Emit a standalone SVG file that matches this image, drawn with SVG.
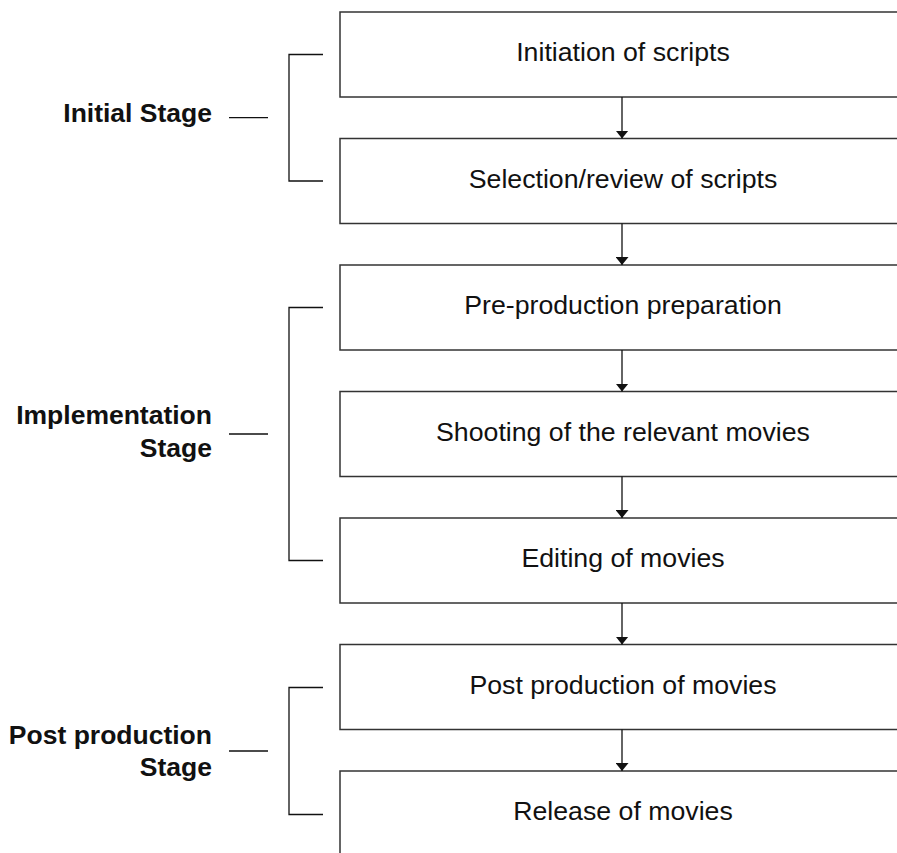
<svg xmlns="http://www.w3.org/2000/svg" width="897" height="853" viewBox="0 0 897 853">
<defs>
<style>
.box{fill:#fff;stroke:#333;stroke-width:1.5}
.bt{font-family:"Liberation Sans",Arial,sans-serif;font-size:26.7px;fill:#111;text-anchor:middle}
.lb{font-family:"Liberation Sans",Arial,sans-serif;font-size:26.5px;font-weight:bold;fill:#111;text-anchor:end}
.ln{fill:none;stroke:#111;stroke-width:1.3}
.ar{fill:none;stroke:#111;stroke-width:1.3;marker-end:url(#ah)}
</style>
<marker id="ah" viewBox="0 0 8 13" refX="8" refY="6.5" markerWidth="8" markerHeight="13" markerUnits="userSpaceOnUse" orient="auto">
<path d="M0,0 L8,6.5 L0,13 Z" fill="#111"/>
</marker>
</defs>
<rect width="897" height="853" fill="#fff"/>
<g id="n1"><rect class="box" x="340" y="12" width="570" height="85"/><text class="bt" x="623" y="61">Initiation of scripts</text></g>
<g id="n2"><rect class="box" x="340" y="138.5" width="570" height="85"/><text class="bt" x="623" y="187.5">Selection/review of scripts</text></g>
<g id="n3"><rect class="box" x="340" y="265" width="570" height="85"/><text class="bt" x="623" y="314">Pre-production preparation</text></g>
<g id="n4"><rect class="box" x="340" y="391.5" width="570" height="85"/><text class="bt" x="623" y="440.5">Shooting of the relevant movies</text></g>
<g id="n5"><rect class="box" x="340" y="518" width="570" height="85"/><text class="bt" x="623" y="567">Editing of movies</text></g>
<g id="n6"><rect class="box" x="340" y="644.5" width="570" height="85"/><text class="bt" x="623" y="693.5">Post production of movies</text></g>
<g id="n7"><rect class="box" x="340" y="771" width="570" height="85"/><text class="bt" x="623" y="820">Release of movies</text></g>
<g id="labels">
<text class="lb" x="212" y="122">Initial Stage</text>
<text class="lb" x="212" y="424">Implementation</text>
<text class="lb" x="212" y="457">Stage</text>
<text class="lb" x="212" y="744">Post production</text>
<text class="lb" x="212" y="776">Stage</text>
</g>
<g id="connectors">
<path class="ar" d="M622,97 V138.5"/>
<path class="ar" d="M622,223.5 V265"/>
<path class="ar" d="M622,350 V391.5"/>
<path class="ar" d="M622,476.5 V518"/>
<path class="ar" d="M622,603 V644.5"/>
<path class="ar" d="M622,729.5 V771"/>
<path class="ln" d="M323,54.5 H289 V181 H323 M229,117.7 H268"/>
<path class="ln" d="M323,307.5 H289 V560.5 H323 M229,434 H268"/>
<path class="ln" d="M323,687.5 H289 V814.5 H323 M229,751 H268"/>
</g>
</svg>
